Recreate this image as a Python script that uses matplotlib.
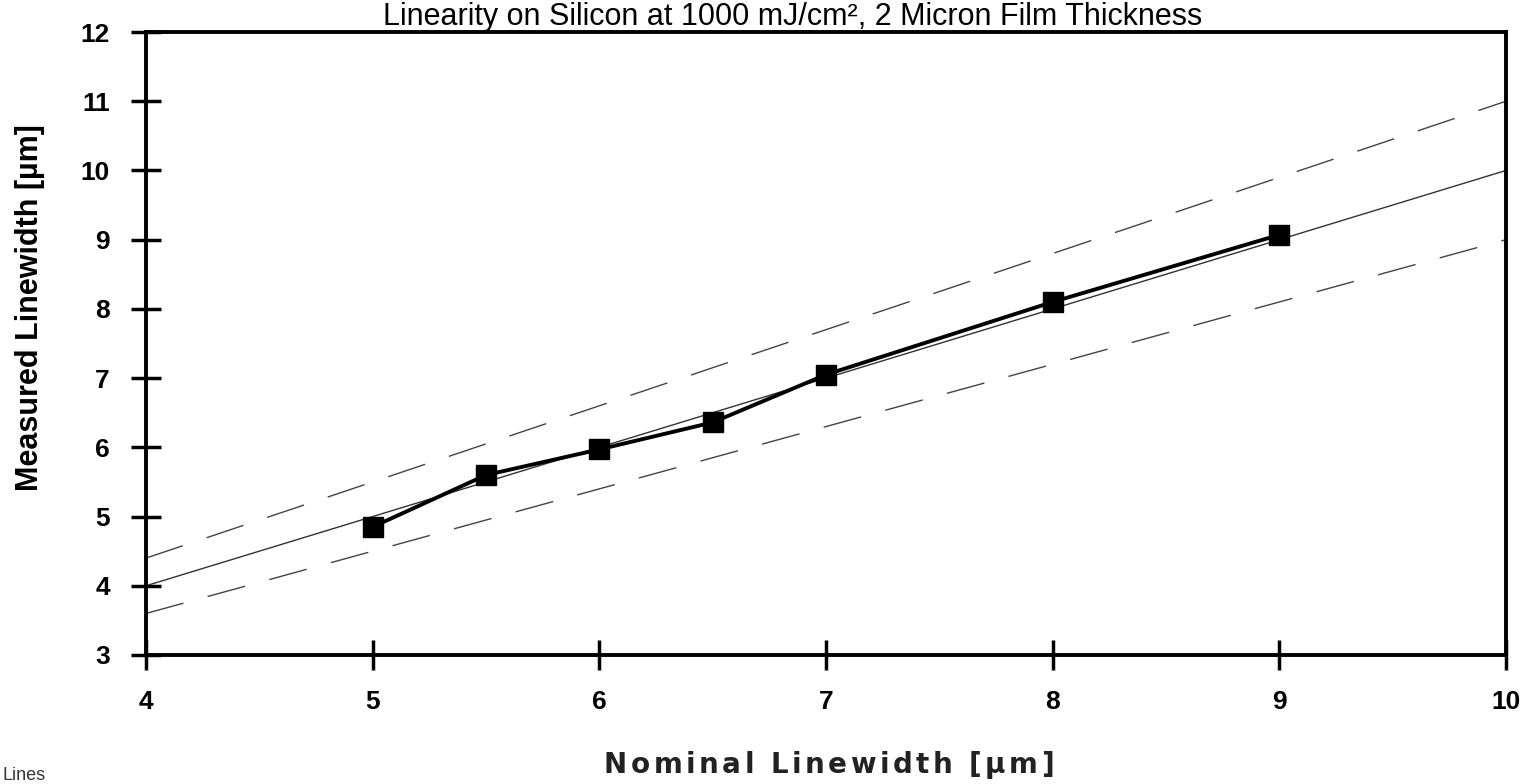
import matplotlib
matplotlib.use('Agg')
import matplotlib.pyplot as plt
import numpy as np

# data
nominal = [5, 5.5, 6, 6.5, 7, 8, 9]
measured = [4.85, 5.6, 5.97, 6.36, 7.05, 8.1, 9.07]
ref_x = [4, 10]
ref_ideal = [4, 10]
ref_upper = [4.4, 11]   # +10 %
ref_lower = [3.6, 9]    # -10 %
x_ticks = [4, 5, 6, 7, 8, 9, 10]
y_ticks = [3, 4, 5, 6, 7, 8, 9, 10, 11, 12]

plt.rcParams['font.family'] = ['Liberation Sans', 'DejaVu Sans']

W, H = 1533, 784
fig = plt.figure(figsize=(W / 100, H / 100), dpi=100)
ax = fig.add_axes([146 / W, 1 - 655 / H, 1360 / W, 623 / H])

ax.plot(ref_x, ref_ideal, color='#333333', lw=1.0)
ax.plot(ref_x, ref_upper, color='#444444', lw=1.0, dashes=(28, 18))
ax.plot(ref_x, ref_lower, color='#444444', lw=1.0, dashes=(28, 18))
ax.plot(nominal, measured, color='black', lw=2.8, marker='s', ms=15,
        markerfacecolor='black', zorder=5)

ax.set_xlim(4, 10)
ax.set_ylim(3, 12)
ax.set_xticks(x_ticks)
ax.set_yticks(y_ticks)
ax.tick_params(direction='inout', length=22, width=2.5, labelsize=19)
ax.tick_params(axis='x', pad=14)
ax.tick_params(axis='y', pad=15)
for lab in ax.get_xticklabels() + ax.get_yticklabels():
    lab.set_fontweight('bold')
for s in ax.spines.values():
    s.set_linewidth(2.8)

# y label sits a bit above the axes centre in the scan
fig.text(30 / W, 1 - 308 / H, 'Measured Linewidth [µm]', rotation=90,
         ha='center', va='center', fontsize=22, fontweight='bold')


def spaced_text(s, x0, x1, y_base, **kw):
    # letter-spaced label spread between pixel x0 and x1
    r = fig.canvas.get_renderer()
    widths = []
    for ch in s:
        if ch == ' ':
            widths.append(kw['fontsize'] * 0.32 * 100 / 72)
            continue
        t = fig.text(0, 0, ch, **kw)
        widths.append(t.get_window_extent(r).width)
        t.remove()
    gap = (x1 - x0 - sum(widths)) / (len(s) - 1)
    x = x0
    for ch, w in zip(s, widths):
        if ch != ' ':
            fig.text(x / W, 1 - y_base / H, ch, ha='left', va='baseline', **kw)
        x += w + gap


spaced_text('Nominal Linewidth [µm]', 604, 1054, 773, fontsize=20,
            fontweight='bold', color='#222222', family='DejaVu Sans')

fig.text(0.517, 1 - 25 / H, 'Linearity on Silicon at 1000 mJ/cm², 2 Micron Film Thickness',
         ha='center', va='baseline', fontsize=22)
fig.text(2 / W, 1 - 780 / H, 'Lines', ha='left', va='baseline', fontsize=13,
         color='#333333')

fig.savefig('out.png', dpi=100)
